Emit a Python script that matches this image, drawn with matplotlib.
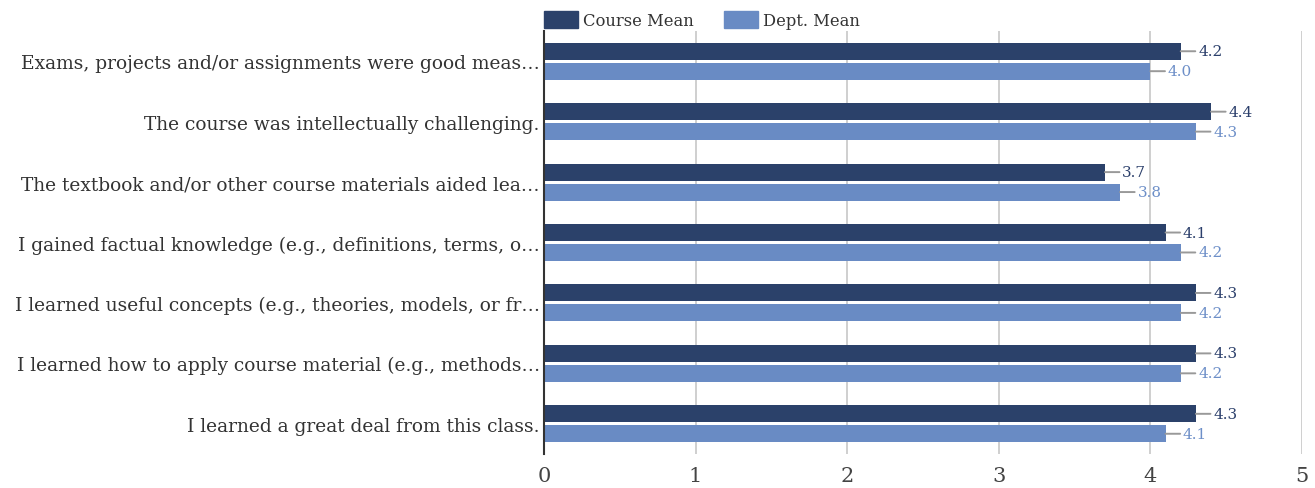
import numpy as np
import matplotlib
matplotlib.use('Agg')
import matplotlib.pyplot as plt
from matplotlib.patches import Patch

plt.rcParams['font.family'] = ['DejaVu Serif', 'DejaVu Sans']

QUESTIONS = [
    'Exams, projects and/or assignments were good meas\u2026',
    'The course was intellectually challenging.',
    'The textbook and/or other course materials aided lea\u2026',
    'I gained factual knowledge (e.g., definitions, terms, o\u2026',
    'I learned useful concepts (e.g., theories, models, or fr\u2026',
    'I learned how to apply course material (e.g., methods\u2026',
    'I learned a great deal from this class.',
]
COURSE_MEAN = [4.2, 4.4, 3.7, 4.1, 4.3, 4.3, 4.3]
DEPT_MEAN = [4.0, 4.3, 3.8, 4.2, 4.2, 4.2, 4.1]
SERIES = ['Course Mean', 'Dept. Mean']

DARK = '#2b416a'
LIGHT = '#698bc4'
DARK_TXT = '#2b3f6b'
LIGHT_TXT = '#6d8fc8'

fig = plt.figure(figsize=(13.15, 4.89), dpi=100)
fig.patch.set_facecolor('white')
ax = fig.add_axes([544 / 1315, 1 - 455 / 489, (1302 - 544) / 1315, (455 - 32) / 489])

y = np.arange(len(QUESTIONS))
h = 0.28
off = 0.165
ax.barh(y - off, COURSE_MEAN, height=h, color=DARK, zorder=3)
ax.barh(y + off, DEPT_MEAN, height=h, color=LIGHT, zorder=3)

for vals, dy, col in [(COURSE_MEAN, -off, DARK_TXT), (DEPT_MEAN, off, LIGHT_TXT)]:
    for yi, v in zip(y, vals):
        ax.annotate(f'{v:.1f}', xy=(v, yi + dy), xytext=(12.5, 0),
                    textcoords='offset points', ha='left', va='center',
                    fontsize=11, color=col,
                    arrowprops=dict(arrowstyle='-', color='#999999', lw=1.4,
                                    shrinkA=0, shrinkB=0))

ax.set_xlim(0, 5)
ax.set_ylim(6.5, -0.5)
ax.set_yticks(y)
ax.set_yticklabels(QUESTIONS, fontsize=13.4, color='#333333')
ax.set_xticks([0, 1, 2, 3, 4, 5])
ax.tick_params(axis='y', length=0, pad=3)
ax.tick_params(axis='x', length=0, pad=9, labelsize=15, labelcolor='#444444')
ax.grid(axis='x', color='#cccccc', lw=1.3, zorder=0)
for s in ['top', 'right', 'bottom']:
    ax.spines[s].set_visible(False)
ax.spines['left'].set_color('#333333')
ax.spines['left'].set_linewidth(1.5)
ax.spines['left'].set_zorder(4)

handles = [Patch(color=DARK, label=SERIES[0]), Patch(color=LIGHT, label=SERIES[1])]
ax.legend(handles=handles, loc='lower left', bbox_to_anchor=(-0.006, 0.995),
          ncol=2, frameon=False, fontsize=11.8, handlelength=2.1,
          handleheight=1.2, handletextpad=0.33, columnspacing=1.8,
          borderaxespad=0.15, borderpad=0.1, labelcolor='#333333')

fig.savefig('out.png', dpi=100, facecolor='white')
